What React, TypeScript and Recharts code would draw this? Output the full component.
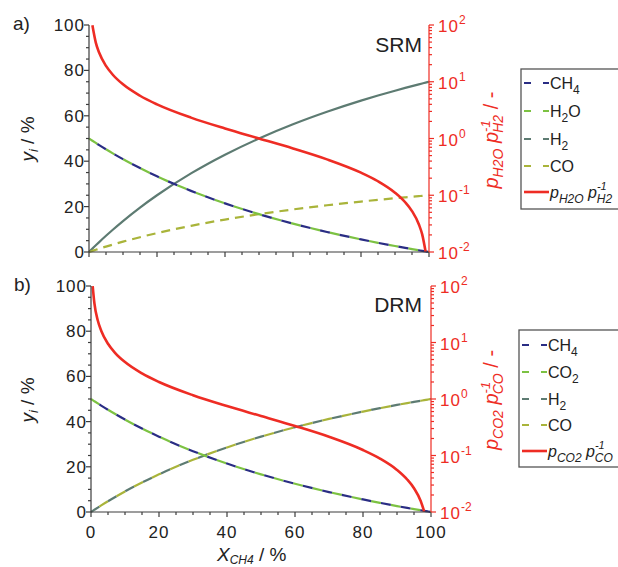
import React from 'react';
import { LineChart, Line, XAxis, YAxis } from 'recharts';

// methane conversion X_CH4 in %
const conversion = [0, 0.5, 1, 2, 3, 5, 7, 10, 15, 20, 30, 40, 50, 60, 70, 80, 85, 90, 93, 95, 97, 98, 99, 100];
// CH4 mole fraction (H2O in SRM and CO2 in DRM follow the same curve, 1:1 feed)
const yCH4 = [50, 49.5, 49.01, 48.04, 47.09, 45.24, 43.46, 40.91, 36.96, 33.33, 26.92, 21.43, 16.67, 12.5, 8.82, 5.56, 4.05, 2.63, 1.81, 1.28, 0.76, 0.51, 0.25, 0];
const srmH2 = [0, 0.75, 1.49, 2.94, 4.37, 7.14, 9.81, 13.64, 19.57, 25, 34.62, 42.86, 50, 56.25, 61.76, 66.67, 68.92, 71.05, 72.28, 73.08, 73.86, 74.24, 74.62, 75];
const srmCO = [0, 0.25, 0.5, 0.98, 1.46, 2.38, 3.27, 4.55, 6.52, 8.33, 11.54, 14.29, 16.67, 18.75, 20.59, 22.22, 22.97, 23.68, 24.09, 24.36, 24.62, 24.75, 24.87, 25];
const srmRatio = [null, null, 99, 49, 32.33, 19, 13.29, 9, 5.667, 4, 2.333, 1.5, 1, 0.667, 0.4286, 0.25, 0.1765, 0.1111, 0.0753, 0.0526, 0.0309, 0.0204, 0.0101, null];
// DRM: H2 and CO coincide
const drmH2 = [0, 0.5, 0.99, 1.96, 2.91, 4.76, 6.54, 9.09, 13.04, 16.67, 23.08, 28.57, 33.33, 37.5, 41.18, 44.44, 45.95, 47.37, 48.19, 48.72, 49.24, 49.49, 49.75, 50];
const drmRatio = [null, 99.5, 49.5, 24.5, 16.17, 9.5, 6.643, 4.5, 2.833, 2, 1.167, 0.75, 0.5, 0.333, 0.2143, 0.125, 0.0882, 0.0556, 0.0376, 0.0263, 0.0155, 0.0102, null, null];

const linTicks = [0, 5, 10, 15, 20, 25, 30, 35, 40, 45, 50, 55, 60, 65, 70, 75, 80, 85, 90, 95, 100];
const logTicks = [0.01, 0.02, 0.03, 0.04, 0.05, 0.06, 0.07, 0.08, 0.09, 0.1, 0.2, 0.3, 0.4, 0.5, 0.6, 0.7, 0.8, 0.9, 1, 2, 3, 4, 5, 6, 7, 8, 9, 10, 20, 30, 40, 50, 60, 70, 80, 90, 100];

const srmData = conversion.map((x, i) => ({
  x, ch4: yCH4[i], h2o: yCH4[i], h2: srmH2[i], co: srmCO[i], ratio: srmRatio[i],
}));
const drmData = conversion.map((x, i) => ({
  x, ch4: yCH4[i], co2: yCH4[i], h2: drmH2[i], co: drmH2[i], ratio: drmRatio[i],
}));

const FONT = '"Liberation Sans", Arial, sans-serif';
const AX = '#3c3c3c';
const RED = '#ee2c24';
const NAVY = '#2a2d84';
const GREEN = '#7cc242';
const GRAY = '#5d7b72';
const OLIVE = '#a9b43a';
const TICK_FS = 17;

const BottomTick = (p: any) => {
  const major = p.payload.value % 20 === 0;
  return (
    <g>
      <line x1={p.x} x2={p.x} y1={p.y} y2={p.y + (major ? 5 : 3)} stroke={AX} strokeWidth={1.2} />
      {p.labels && major && (
        <text x={p.x} y={p.y + 26} textAnchor="middle" fontSize={TICK_FS} letterSpacing={1} fontFamily={FONT} fill="#222">{p.payload.value}</text>
      )}
    </g>
  );
};

const TopTick = (p: any) => {
  const major = p.payload.value % 20 === 0;
  return <line x1={p.x} x2={p.x} y1={p.y} y2={p.y - (major ? 5 : 3)} stroke={AX} strokeWidth={1.2} />;
};

const LeftTick = (p: any) => {
  const major = p.payload.value % 20 === 0;
  return (
    <g>
      <line x1={p.x} x2={p.x - (major ? 5 : 3)} y1={p.y} y2={p.y} stroke={AX} strokeWidth={1.2} />
      {major && (
        <text x={p.x - 4} y={p.y + 6} textAnchor="end" fontSize={TICK_FS} letterSpacing={1} fontFamily={FONT} fill="#222">{p.payload.value}</text>
      )}
    </g>
  );
};

const RightTick = (p: any) => {
  const lg = Math.log10(p.payload.value);
  const major = Math.abs(lg - Math.round(lg)) < 1e-6;
  return (
    <g>
      <line x1={p.x} x2={p.x + (major ? 5 : 3)} y1={p.y} y2={p.y} stroke={RED} strokeWidth={1.2} />
      {major && (
        <text x={p.x + 9} y={p.y + 7} fontSize={TICK_FS} letterSpacing={1} fontFamily={FONT} fill={RED}>
          10<tspan dy={-8} fontSize={12} letterSpacing={0}>{Math.round(lg)}</tspan>
        </text>
      )}
    </g>
  );
};

type Spec = { key: string; color: string; dash?: string; offset?: number; width?: number };

const Panel = ({ data, lines, top, height, marginTop, xAxisHeight, leftWidth, labels }: any) => (
  <div style={{ position: 'absolute', left: 0, top }}>
    <LineChart width={618} height={height} data={data} margin={{ top: marginTop, right: 0, bottom: 0, left: 0 }}>
      <XAxis dataKey="x" type="number" domain={[0, 100]} ticks={linTicks} interval={0}
        height={xAxisHeight} tickSize={0} tickMargin={0} tickLine={false}
        axisLine={{ stroke: AX, strokeWidth: 1.2 }}
        tick={(p: any) => <BottomTick {...p} labels={labels} />} />
      <XAxis xAxisId="top" orientation="top" dataKey="x" type="number" domain={[0, 100]} ticks={linTicks} interval={0}
        height={0} tickSize={0} tickMargin={0} tickLine={false}
        axisLine={{ stroke: AX, strokeWidth: 1.2 }} tick={(p: any) => <TopTick {...p} />} />
      <YAxis yAxisId="left" type="number" domain={[0, 100]} ticks={linTicks} interval={0} width={leftWidth}
        tickSize={0} tickMargin={0} tickLine={false} axisLine={{ stroke: AX, strokeWidth: 1.2 }}
        tick={(p: any) => <LeftTick {...p} />} />
      <YAxis yAxisId="right" orientation="right" type="number" scale="log" domain={[0.01, 100]} allowDataOverflow
        ticks={logTicks} interval={0} width={618 - 429 - (leftWidth - 89)}
        tickSize={0} tickMargin={0} tickLine={false} axisLine={{ stroke: RED, strokeWidth: 1.2 }}
        tick={(p: any) => <RightTick {...p} />} />
      {lines.map((s: Spec) => (
        <Line key={s.key} yAxisId="left" dataKey={s.key} type="monotone" dot={false} stroke={s.color}
          strokeWidth={s.width ?? 2.2} strokeDasharray={s.dash} strokeDashoffset={s.offset}
          isAnimationActive={false} />
      ))}
      <Line yAxisId="right" dataKey="ratio" type="monotone" dot={false} stroke={RED} strokeWidth={2.6}
        connectNulls={false} isAnimationActive={false} />
    </LineChart>
  </div>
);

const srmLines: Spec[] = [
  { key: 'h2', color: GRAY },
  { key: 'co', color: OLIVE, dash: '9 6' },
  { key: 'h2o', color: GREEN, dash: '10 10' },
  { key: 'ch4', color: NAVY, dash: '10 10', offset: 10 },
];
const drmLines: Spec[] = [
  { key: 'h2', color: GRAY, dash: '10 10' },
  { key: 'co', color: OLIVE, dash: '10 10', offset: 10 },
  { key: 'co2', color: GREEN, dash: '10 10' },
  { key: 'ch4', color: NAVY, dash: '10 10', offset: 10 },
];

const Sub = ({ children, size = 12 }: any) => <tspan fontSize={size} dy={5}>{children}</tspan>;

const LegendBox = ({ x, y, h, rows }: any) => (
  <g>
    <rect x={x} y={y} width={130} height={h} fill="#fff" stroke="#555" strokeWidth={1.3} />
    {rows.map((r: any, i: number) => (
      <g key={i}>
        <line x1={x + 3} x2={x + 28} y1={r.y} y2={r.y} stroke={r.color} strokeWidth={r.solid ? 2.6 : 2.2}
          strokeDasharray={r.solid ? undefined : '7 12'} />
        <text x={x + 29} y={r.y + 6} fontSize={16} fontFamily={FONT} fill="#222">{r.label}</text>
      </g>
    ))}
  </g>
);

const RatioLabel = ({ a, b, size = 16, sub = 12 }: any) => (
  <>
    <tspan fontStyle="italic">p</tspan>
    <tspan fontStyle="italic" fontSize={sub} dy={5}>{a}</tspan>
    <tspan dy={-5}> </tspan>
    <tspan fontStyle="italic">p</tspan>
    <tspan fontStyle="italic" fontSize={sub - 1} dy={-8}>-1</tspan>
    <tspan fontStyle="italic" fontSize={sub} dx={-size * 0.62} dy={13}>{b}</tspan>
    <tspan dy={-5}>{' '}</tspan>
  </>
);

const YLabel = ({ cy }: any) => (
  <text transform={`translate(34 ${cy}) rotate(-90)`} textAnchor="middle" fontSize={19} fill="#222">
    <tspan fontStyle="italic">y</tspan><tspan fontStyle="italic" fontSize={13} dy={4}>i</tspan><tspan dy={-4}> / %</tspan>
  </text>
);

export default function App() {
  return (
    <div style={{ position: 'absolute', left: 0, top: 0, width: 618, height: 567, overflow: 'hidden', background: '#fff' }}>
      <Panel data={srmData} lines={srmLines} top={0} height={270} marginTop={25} xAxisHeight={18} leftWidth={89} labels={false} />
      <Panel data={drmData} lines={drmLines} top={270} height={297} marginTop={16} xAxisHeight={55} leftWidth={91} labels />
      <svg width={618} height={567} style={{ position: 'absolute', left: 0, top: 0, pointerEvents: 'none' }} fontFamily={FONT}>
        <text x={13} y={30} fontSize={19} fill="#222">a)</text>
        <text x={14} y={291} fontSize={19} fill="#222">b)</text>
        <text x={422} y={52} fontSize={21} textAnchor="end" fill="#222">SRM</text>
        <text x={422} y={312} fontSize={21} textAnchor="end" fill="#222">DRM</text>

        <YLabel cy={139} />
        <YLabel cy={400} />
        <text transform="translate(498 140) rotate(-90)" textAnchor="middle" fontSize={20} fill={RED}>
          <RatioLabel a="H2O" b="H2" size={20} sub={14} /><tspan>/ -</tspan>
        </text>
        <text transform="translate(498 400) rotate(-90)" textAnchor="middle" fontSize={20} fill={RED}>
          <RatioLabel a="CO2" b="CO" size={20} sub={14} /><tspan>/ -</tspan>
        </text>
        <text x={217} y={561} fontSize={19} fill="#222">
          <tspan fontStyle="italic">X</tspan><tspan fontStyle="italic" fontSize={12} dy={3}>CH4</tspan><tspan dy={-3}> / %</tspan>
        </text>

        <LegendBox x={521} y={69} h={140} rows={[
          { y: 83, color: NAVY, label: <>CH<Sub>4</Sub></> },
          { y: 111, color: GREEN, label: <>H<Sub>2</Sub><tspan dy={-5}>O</tspan></> },
          { y: 139, color: GRAY, label: <>H<Sub>2</Sub></> },
          { y: 166, color: OLIVE, label: <>CO</> },
          { y: 192, color: RED, solid: true, label: <RatioLabel a="H2O" b="H2" /> },
        ]} />
        <LegendBox x={519} y={330} h={137} rows={[
          { y: 345, color: NAVY, label: <>CH<Sub>4</Sub></> },
          { y: 372, color: GREEN, label: <>CO<Sub>2</Sub></> },
          { y: 399, color: GRAY, label: <>H<Sub>2</Sub></> },
          { y: 425, color: OLIVE, label: <>CO</> },
          { y: 451, color: RED, solid: true, label: <RatioLabel a="CO2" b="CO" /> },
        ]} />
      </svg>
    </div>
  );
}
